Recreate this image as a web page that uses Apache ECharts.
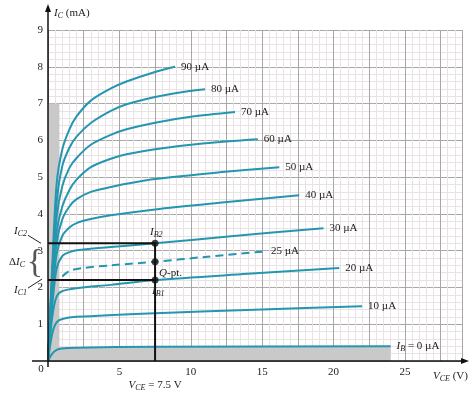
<!DOCTYPE html>
<html><head><meta charset="utf-8">
<script src="https://cdn.jsdelivr.net/npm/echarts@6/dist/echarts.min.js"></script>
<style>html,body{margin:0;padding:0;background:#fff}#c{width:472px;height:399px}</style>
</head><body><div id="c"></div>
<script>
// ---- data (V_CE in V, I_C in mA) ----
const xTicks = [5, 10, 15, 20, 25];
const yTicks = [1, 2, 3, 4, 5, 6, 7, 8, 9];
const curveLabels = ['90 µA','80 µA','70 µA','60 µA','50 µA','40 µA','30 µA','20 µA','10 µA'];
const curve90 = [[0,0],[0.3,2.6],[0.6,4.8],[1,5.75],[1.5,6.3],[2,6.65],[3,7.08],[4.4,7.41],[5.5,7.6],[7.5,7.86],[8.9,8.0]];
const curve80 = [[0,0],[0.3,2.4],[0.6,4.3],[1,5.3],[1.5,5.8],[2,6.1],[3,6.47],[4.4,6.8],[5.5,6.98],[7.5,7.18],[9,7.29],[11,7.39]];
const curve70 = [[0,0],[0.3,2.3],[0.6,3.9],[1,4.75],[1.5,5.25],[2,5.52],[3,5.88],[4.4,6.15],[5.5,6.3],[7.5,6.48],[10,6.64],[13.1,6.77]];
const curve60 = [[0,0],[0.3,2.1],[0.6,3.5],[1,4.2],[1.5,4.65],[2,4.93],[3,5.27],[4.4,5.5],[5.5,5.62],[7.5,5.76],[11,5.92],[14.7,6.03]];
const curve50 = [[0,0],[0.3,1.9],[0.6,3.2],[1,3.85],[1.5,4.2],[2,4.4],[3,4.6],[4.4,4.73],[5.5,4.82],[7.5,4.95],[12,5.13],[16.2,5.27]];
const curve40 = [[0,0],[0.3,1.7],[0.6,2.9],[1,3.4],[1.5,3.63],[2,3.75],[3,3.86],[4.4,3.96],[7.5,4.12],[12,4.3],[17.6,4.51]];
const curve30 = [[0,0],[0.3,1.5],[0.6,2.5],[1,2.85],[1.5,2.96],[2,3.01],[4.4,3.1],[7.5,3.2],[13,3.4],[19.3,3.61]];
const curve25 = [[1.0,2.3],[1.5,2.45],[2.5,2.53],[4.4,2.6],[7.5,2.7],[11,2.83],[15.2,2.98]];
const curve20 = [[0,0],[0.3,1.2],[0.6,1.75],[1,1.9],[2,1.98],[4.4,2.07],[7.5,2.2],[14,2.37],[20.4,2.53]];
const curve10 = [[0,0],[0.3,0.75],[0.6,1.05],[1,1.14],[2,1.2],[7.5,1.3],[15,1.4],[22,1.49]];
const curve0  = [[0,0],[0.3,0.2],[0.6,0.3],[1,0.34],[2,0.36],[7.5,0.39],[24,0.4]];
const vceQ = 7.5;      // V
const icB2 = 3.2;      // mA (I_C2)
const icQ  = 2.7;      // mA (Q-pt)
const icB1 = 2.2;      // mA (I_C1)
const satRegion = [[0,0],[0.8,7]];
const cutRegion = [[0,0],[24,0.38]];

const FONT = 'Liberation Serif';
const TEAL = '#2596b0';
const el = document.getElementById('c');
const chart = echarts.init(el, null, {renderer:'canvas'});

const curves = [curve90,curve80,curve70,curve60,curve50,curve40,curve30,curve20,curve10];
function curveSeries(data, label, dashed){
  return {
    type:'line', data, showSymbol:false, smooth:0.3, z:5,
    lineStyle:{color:TEAL, width:2, type: dashed ? [8,5] : 'solid'},
    endLabel:{show:true, formatter:label, distance:6, color:'#222',
      fontFamily:FONT, fontSize:11},
    animation:false, silent:true
  };
}
const series = curves.map((c,i)=>curveSeries(c, curveLabels[i], false));
series.push(curveSeries(curve25, '25 µA', true));
const s0 = curveSeries(curve0, '{i|I}{sub|B}{n| = 0 µA}', false);
s0.endLabel.rich = {i:{fontStyle:'italic',fontFamily:FONT,fontSize:11,color:'#222'},
  sub:{fontStyle:'italic',fontFamily:FONT,fontSize:8,color:'#222',padding:[6,0,0,0]},
  n:{fontFamily:FONT,fontSize:11,color:'#222'}};
s0.markArea = {silent:true, itemStyle:{color:'#c9c9c9'}, data:[
  [{coord:satRegion[0]},{coord:satRegion[1]}],
  [{coord:cutRegion[0]},{coord:cutRegion[1]}]
]};
series.push(s0);
// black lines to the axis
series.push({type:'line', data:[[0,icB2],[vceQ,icB2],[vceQ,0]], showSymbol:false, z:6,
  lineStyle:{color:'#111', width:2}, animation:false, silent:true});
series.push({type:'line', data:[[0,icB1],[vceQ,icB1]], showSymbol:false, z:6,
  lineStyle:{color:'#111', width:2}, animation:false, silent:true});
series.push({type:'scatter', data:[[vceQ,icB2],[vceQ,icQ],[vceQ,icB1]], symbolSize:7, z:7,
  itemStyle:{color:'#111'}, animation:false, silent:true});

const option = {
  backgroundColor:'#fff',
  animation:false,
  grid:{left:48, right:10, top:30, bottom:38},
  xAxis:[
    {type:'value', position:'bottom', min:0, max:29, interval:0.5, axisLine:{show:false}, axisTick:{show:false},
      axisLabel:{show:false}, splitLine:{show:true, lineStyle:{color:'#ebe2e6', width:1}}},
    {type:'value', position:'bottom', min:0, max:29, interval:2.5, axisLine:{show:false}, axisTick:{show:false},
      splitLine:{show:true, lineStyle:{color:'#a8a8a8', width:1}},
      axisLabel:{margin:6, fontFamily:FONT, fontSize:11, color:'#222',
        formatter:v=> xTicks.indexOf(v)>=0 ? String(v) : ''}}
  ],
  yAxis:[
    {type:'value', position:'left', min:0, max:9, interval:0.2, axisLine:{show:false}, axisTick:{show:false},
      axisLabel:{show:false}, splitLine:{show:true, lineStyle:{color:'#ebe2e6', width:1}}},
    {type:'value', position:'left', min:0, max:9, interval:1, axisLine:{show:false}, axisTick:{show:false},
      splitLine:{show:true, lineStyle:{color:'#a8a8a8', width:1}},
      axisLabel:{margin:5, fontFamily:FONT, fontSize:11, color:'#222',
        formatter:v=> yTicks.indexOf(v)>=0 ? String(v) : ''}}
  ],
  series
};
chart.setOption(option);

// annotations
const p = (x,y)=>chart.convertToPixel({xAxisIndex:0,yAxisIndex:0},[x,y]);
const o = p(0,0);
const richBase = {
  i:{fontStyle:'italic', fontFamily:FONT, fontSize:11, fill:'#222'},
  sub:{fontStyle:'italic', fontFamily:FONT, fontSize:8, fill:'#222', padding:[6,0,0,0]},
  n:{fontFamily:FONT, fontSize:11, fill:'#222'}
};
const pB2 = p(vceQ,icB2), pQ = p(vceQ,icQ), pB1 = p(vceQ,icB1);
const pC2 = p(0,icB2), pC1 = p(0,icB1);
const graphic = [
  {type:'line', silent:true, z:10, shape:{x1:o[0], y1:o[1]+6, x2:o[0], y2:9}, style:{stroke:'#111', lineWidth:1.5}},
  {type:'polygon', silent:true, z:10, shape:{points:[[o[0],4],[o[0]-3,12],[o[0]+3,12]]}, style:{fill:'#111'}},
  {type:'line', silent:true, z:10, shape:{x1:32, y1:o[1], x2:463, y2:o[1]}, style:{stroke:'#111', lineWidth:1.5}},
  {type:'polygon', silent:true, z:10, shape:{points:[[469,o[1]],[461,o[1]-3],[461,o[1]+3]]}, style:{fill:'#111'}},
  {type:'text', silent:true, z:10, x:o[0]+6, y:13, style:{text:'{i|I}{sub|C}{n| (mA)}', rich:richBase, verticalAlign:'middle'}},
  {type:'text', silent:true, z:10, x:433, y:376, style:{text:'{i|V}{sub|CE}{n| (V)}', rich:richBase, verticalAlign:'middle'}},
  {type:'text', silent:true, z:10, x:pB1[0], y:385, style:{text:'{i|V}{sub|CE}{n| = 7.5 V}', rich:richBase, align:'center', verticalAlign:'middle'}},
  {type:'text', silent:true, z:10, x:o[0]-7, y:o[1]+8, style:{text:'0', fill:'#222', font:'11px "'+FONT+'"', align:'center', verticalAlign:'middle'}},
  {type:'text', silent:true, z:10, x:pB2[0]-5, y:pB2[1]-11, style:{text:'{i|I}{sub|B2}', rich:richBase, verticalAlign:'middle'}},
  {type:'text', silent:true, z:10, x:pQ[0]+4, y:pQ[1]+11, style:{text:'{i|Q}{n|-pt.}', rich:richBase, verticalAlign:'middle'}},
  {type:'text', silent:true, z:10, x:pB1[0]-3, y:pB1[1]+11, style:{text:'{i|I}{sub|B1}', rich:richBase, verticalAlign:'middle'}},
  {type:'text', silent:true, z:10, x:14, y:pC2[1]-12, style:{text:'{i|I}{sub|C2}', rich:richBase, verticalAlign:'middle'}},
  {type:'line', silent:true, z:10, shape:{x1:28, y1:pC2[1]-8, x2:41, y2:pC2[1]}, style:{stroke:'#222', lineWidth:1}},
  {type:'text', silent:true, z:10, x:14, y:pC1[1]+10, style:{text:'{i|I}{sub|C1}', rich:richBase, verticalAlign:'middle'}},
  {type:'line', silent:true, z:10, shape:{x1:28, y1:pC1[1]+8, x2:42, y2:pC1[1]-1}, style:{stroke:'#222', lineWidth:1}},
  {type:'text', silent:true, z:10, x:9, y:(pC1[1]+pC2[1])/2, style:{text:'{n|Δ}{i|I}{sub|C}', rich:richBase, verticalAlign:'middle'}},
  {type:'text', silent:true, z:10, x:35, y:(pC1[1]+pC2[1])/2+1, style:{text:'{', fill:'#555', font:'34px "'+FONT+'"', align:'center', verticalAlign:'middle'}}
];
chart.setOption({graphic});
</script></body></html>
